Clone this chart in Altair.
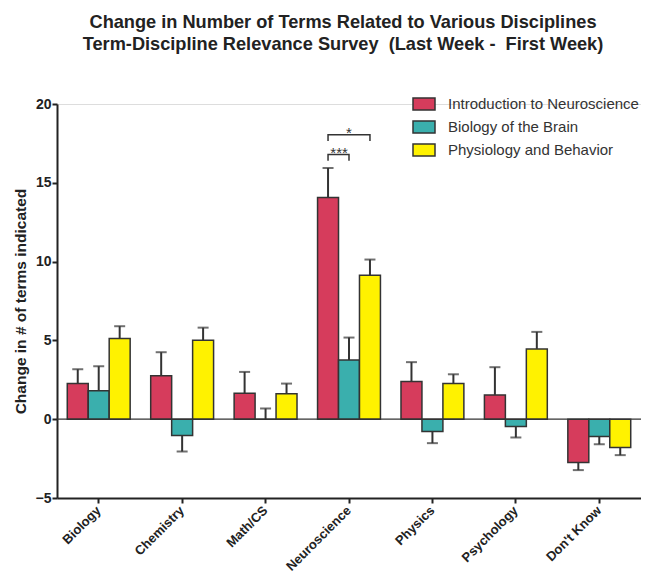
import altair as alt
import pandas as pd

categories = ["Biology", "Chemistry", "Math/CS", "Neuroscience", "Physics", "Psychology", "Don't Know"]
series = ["Introduction to Neuroscience", "Biology of the Brain", "Physiology and Behavior"]
colors = ["#D63C5C", "#3AAFAD", "#FFF200"]

intro_vals = [2.26, 2.75, 1.65, 14.06, 2.39, 1.54, -2.75]
intro_sem = [0.91, 1.50, 1.35, 1.88, 1.23, 1.76, 0.48]
brain_vals = [1.80, -1.04, 0.0, 3.76, -0.78, -0.47, -1.10]
brain_sem = [1.56, 1.01, 0.68, 1.42, 0.74, 0.69, 0.49]
phys_vals = [5.12, 5.01, 1.61, 9.13, 2.26, 4.46, -1.80]
phys_sem = [0.78, 0.80, 0.65, 1.00, 0.59, 1.08, 0.48]

# significance brackets
sig_category = ["Neuroscience", "Neuroscience"]
sig_from = ["Introduction to Neuroscience", "Introduction to Neuroscience"]
sig_to = ["Biology of the Brain", "Physiology and Behavior"]
sig_label = ["***", "*"]
sig_level = [16.8, 18.05]
sig_tick = [16.4, 17.65]
sig_text_y = [16.55, 17.85]
sig_text_series = ["Introduction to Neuroscience", "Biology of the Brain"]
sig_text_dx = [11, 0]

rows = []
for s, vals, sems in [(series[0], intro_vals, intro_sem),
                      (series[1], brain_vals, brain_sem),
                      (series[2], phys_vals, phys_sem)]:
    for c, v, e in zip(categories, vals, sems):
        sign = 1 if v >= 0 else -1
        rows.append({"category": c, "series": s, "value": v, "err_end": v + sign * e})
df = pd.DataFrame(rows)

brows = []
for i in range(len(sig_label)):
    pts = [(sig_from[i], sig_tick[i]), (sig_from[i], sig_level[i]),
           (sig_to[i], sig_level[i]), (sig_to[i], sig_tick[i])]
    for k, (s, y) in enumerate(pts):
        brows.append({"category": sig_category[i], "series": s, "y": y, "order": k, "bracket": i})
bdf = pd.DataFrame(brows)

tdf = pd.DataFrame({"category": sig_category, "series": sig_text_series,
                    "y": sig_text_y, "label": sig_label, "dx": sig_text_dx})

FONT = "Liberation Sans"

x_enc = alt.X("category:N", sort=categories,
              scale=alt.Scale(paddingInner=0, paddingOuter=0),
              axis=alt.Axis(title=None, labelAngle=-45, labelAlign="right", labelBaseline="middle",
                            labelFont=FONT, labelFontWeight="bold", labelFontSize=13,
                            labelColor="#222", labelPadding=5, labelLimit=0,
                            domainColor="#222", domainWidth=2, tickColor="#222",
                            tickWidth=2, tickSize=5))
xo_enc = alt.XOffset("series:N", sort=series,
                     scale=alt.Scale(domain=series, paddingInner=0, paddingOuter=0.49))
y_scale = alt.Scale(domain=[-5, 20], nice=False, zero=False)

bars = alt.Chart(df).mark_bar(stroke="#333333", strokeWidth=1.5).encode(
    x=x_enc,
    xOffset=xo_enc,
    y=alt.Y("value:Q", scale=y_scale,
            axis=alt.Axis(title="Change in # of terms indicated", values=[-5, 0, 5, 10, 15, 20],
                          grid=False, labelFont=FONT, labelFontWeight="bold", labelFontSize=14,
                          labelColor="#222", labelPadding=1,
                          titleFont=FONT, titleFontWeight="bold", titleFontSize=15.5,
                          titleColor="#222", titlePadding=7,
                          domainColor="#222", domainWidth=2, tickColor="#222",
                          tickWidth=2, tickSize=5)),
    y2=alt.datum(0),
    color=alt.Color("series:N", sort=series,
                    scale=alt.Scale(domain=series, range=colors),
                    legend=alt.Legend(title=None, orient="none", legendX=355, legendY=-12,
                                      symbolType="M-1,-0.55L1,-0.55L1,0.55L-1,0.55Z",
                                      symbolSize=484, symbolStrokeColor="#333333",
                                      symbolStrokeWidth=1.5, labelFont=FONT, labelFontSize=15,
                                      labelColor="#333", labelOffset=12, rowPadding=1,
                                      labelLimit=0, padding=0)),
)

err_rule = alt.Chart(df).mark_rule(color="#333333", strokeWidth=2).encode(
    x=alt.X("category:N", sort=categories), xOffset=xo_enc,
    y=alt.Y("value:Q", scale=y_scale), y2="err_end:Q")

err_cap = alt.Chart(df).mark_tick(color="#333333", thickness=2, size=11).encode(
    x=alt.X("category:N", sort=categories), xOffset=xo_enc,
    y=alt.Y("err_end:Q", scale=y_scale))

zero = alt.Chart(pd.DataFrame({"z": [0]})).mark_rule(color="#333333", strokeWidth=1.2).encode(
    y=alt.Y("z:Q", scale=y_scale))

brackets = alt.Chart(bdf).mark_line(color="#333333", strokeWidth=1.5).encode(
    x=alt.X("category:N", sort=categories), xOffset=xo_enc,
    y=alt.Y("y:Q", scale=y_scale), detail="bracket:N", order="order:Q")

stars_list = []
for i in range(len(sig_label)):
    stars_list.append(
        alt.Chart(tdf.iloc[[i]]).mark_text(font=FONT, fontSize=15, color="#333333",
                                           baseline="alphabetic", align="center",
                                           dx=int(sig_text_dx[i])).encode(
            x=alt.X("category:N", sort=categories), xOffset=xo_enc,
            y=alt.Y("y:Q", scale=y_scale), text="label:N"))

chart = alt.layer(err_rule, err_cap, bars, zero, brackets, *stars_list).properties(
    width=584, height=394,
    autosize=alt.AutoSizeParams(type="none"),
    padding={"left": 49, "top": 96, "right": 0, "bottom": 75},
    title=alt.TitleParams(
        text=["Change in Number of Terms Related to Various Disciplines",
              "Term-Discipline Relevance Survey \u00a0(Last Week - \u00a0First Week)"],
        font=FONT, fontSize=18.2, fontWeight="bold", color="#222", anchor="middle",
        dx=-6, offset=38, lineHeight=22),
).configure_view(stroke=None).configure(background="white")

chart.save("out.html", embed_options={"renderer": "svg", "actions": False})
